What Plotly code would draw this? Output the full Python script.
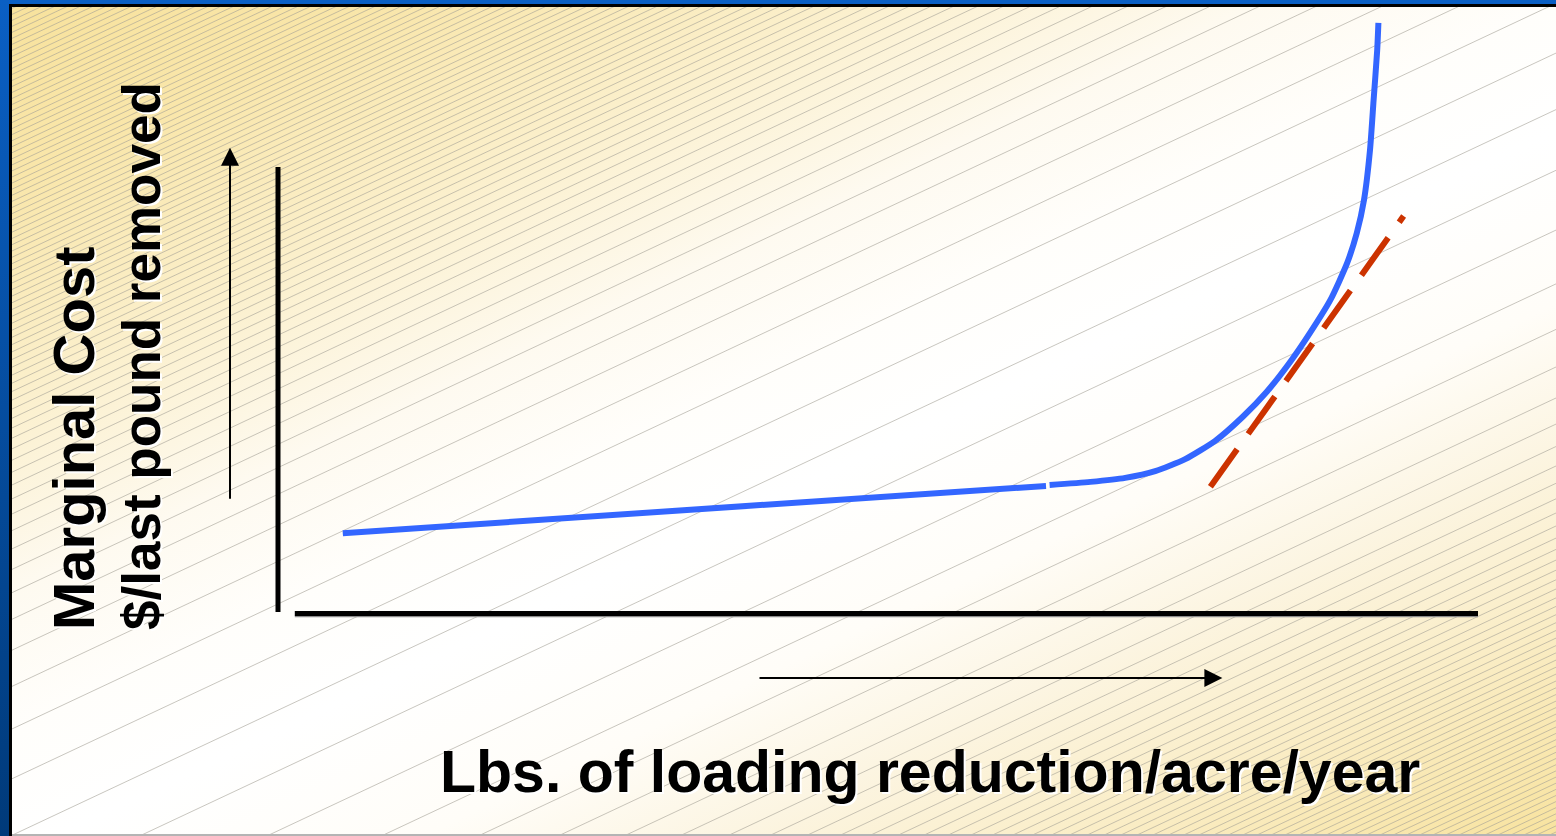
import base64
import plotly.graph_objects as go

# Marginal cost curve: flat stretch, then the steep rise
seg_x = [5.4, 64.0]
seg_y = [17.9, 28.5]

curve_x = [64.3, 67.7, 70.6, 73.1, 75.6, 78.1, 80.4, 82.4, 84.3, 86.0,
           87.7, 89.1, 89.9, 90.5, 91.0, 91.3, 91.6, 91.7]
curve_y = [28.7, 29.4, 30.3, 31.8, 34.5, 38.6, 44.0, 49.6, 56.1, 62.8,
           70.2, 78.5, 85.2, 92.6, 103.8, 115.0, 126.2, 132.3]

# tangent (dashed) line
tangent_x = [77.7, 93.8]
tangent_y = [28.3, 89.0]

W, H = 1556, 836

# pixel anchors of the axes (x=0 / y=0) and px per unit
X0_PX, X_SCALE = 278, 12.0
Y0_PX, Y_SCALE = 613, 4.46

FONT = "Liberation Sans, Arial, sans-serif"


def px_x(p):
    return p / W


def px_y(p):
    return 1 - p / H


def background_svg():
    # diagonal cream/yellow gradient, hatch, slide border
    stops = [(0.00, "#F8E29C"), (0.12, "#F9E6AA"), (0.25, "#FBEFCA"),
             (0.38, "#FEFAF0"), (0.47, "#FFFEFB"), (0.55, "#FFFFFF"),
             (0.66, "#FFFDF8"), (0.75, "#FCF5E2"), (0.86, "#FAEDC6"),
             (1.00, "#F8E39F")]
    stop_xml = "".join(f"<stop offset='{o}' stop-color='{c}'/>" for o, c in stops)

    slope = 0.47
    cmax = H + slope * W
    d = []
    c = 2.0
    while c < cmax:
        d.append(f"M0,{c:.1f}L{W},{c - slope * W:.1f}")
        f = c / cmax
        white = 2.718 ** (-((f - 0.55) / 0.17) ** 2)
        c += 6 + 55 * white
    hatch = "".join(d)

    svg = (
        f"<svg xmlns='http://www.w3.org/2000/svg' width='{W}' height='{H}' "
        f"viewBox='0 0 {W} {H}' preserveAspectRatio='none'>"
        "<defs>"
        "<linearGradient id='bg' gradientUnits='userSpaceOnUse' x1='0' y1='0' x2='603' y2='1284'>"
        f"{stop_xml}</linearGradient>"
        "<linearGradient id='bl' x1='0' y1='0' x2='0' y2='1'>"
        "<stop offset='0' stop-color='#0A5FC4'/><stop offset='1' stop-color='#003A7A'/>"
        "</linearGradient>"
        "</defs>"
        f"<rect width='{W}' height='{H}' fill='url(#bg)'/>"
        f"<path d='{hatch}' stroke='#a39f96' stroke-width='0.6' fill='none'/>"
        f"<rect x='0' y='0' width='{W}' height='4' fill='#0A5FC4'/>"
        f"<rect x='0' y='4' width='{W}' height='3' fill='#000'/>"
        f"<rect x='0' y='0' width='9' height='{H}' fill='url(#bl)'/>"
        f"<rect x='9' y='4' width='3' height='{H}' fill='#000'/>"
        f"<rect x='12' y='{H - 2}' width='{W}' height='2' fill='#b4b4b4'/>"
        "</svg>"
    )
    return "data:image/svg+xml;base64," + base64.b64encode(svg.encode()).decode()


fig = go.Figure()

fig.add_trace(go.Scatter(
    x=seg_x, y=seg_y, mode='lines',
    line=dict(color='#3366FF', width=6),
    hoverinfo='skip'
))

fig.add_trace(go.Scatter(
    x=curve_x, y=curve_y, mode='lines',
    line=dict(color='#3366FF', width=6, shape='spline', smoothing=0.6),
    hoverinfo='skip'
))

fig.add_trace(go.Scatter(
    x=tangent_x, y=tangent_y, mode='lines',
    line=dict(color='#CC3300', width=6, dash='46px,19px'),
    hoverinfo='skip'
))

# axis lines (drawn as shapes so they can stop short of each other)
shapes = [
    dict(type='line', xref='x', yref='y', x0=1.4, x1=100, y0=-0.78, y1=-0.78,
         line=dict(color='#8c8c8c', width=1.5)),
    dict(type='line', xref='x', yref='y', x0=1.4, x1=100, y0=-0.1, y1=-0.1,
         line=dict(color='black', width=5)),
    dict(type='line', xref='x', yref='y', x0=0, x1=0, y0=0.2, y1=100,
         line=dict(color='black', width=5)),
]

annotations = [
    # direction arrows
    dict(x=-4.0, y=104.3, ax=-4.0, ay=25.3, xref='x', yref='y', axref='x', ayref='y',
         text='', showarrow=True, arrowhead=2, arrowsize=1.8, arrowwidth=2,
         arrowcolor='black', standoff=0),
    dict(x=78.7, y=-14.6, ax=40.0, ay=-14.6, xref='x', yref='y', axref='x', ayref='y',
         text='', showarrow=True, arrowhead=2, arrowsize=1.8, arrowwidth=2,
         arrowcolor='black', standoff=0),
]

labels = [
    dict(text='Marginal Cost', x=73, y=632, size=58, angle=-90, xa='center', ya='bottom'),
    dict(text='$/last pound removed', x=141, y=632, size=53, angle=-90, xa='center', ya='bottom'),
    dict(text='Lbs. of loading reduction/acre/year', x=930, y=772, size=59, angle=0,
         xa='center', ya='middle'),
]
for lab in labels:
    for color, dx, dy in (('white', 2, -2), ('black', 0, 0)):
        annotations.append(dict(
            text=lab['text'], x=px_x(lab['x']), y=px_y(lab['y']),
            xref='paper', yref='paper', showarrow=False,
            xanchor=lab['xa'], yanchor=lab['ya'], textangle=lab['angle'],
            xshift=dx, yshift=dy,
            font=dict(family=FONT, size=lab['size'], color=color, weight='bold')
        ))

fig.update_layout(
    width=W, height=H,
    margin=dict(l=0, r=0, t=0, b=0),
    paper_bgcolor='white',
    plot_bgcolor='rgba(0,0,0,0)',
    showlegend=False,
    shapes=shapes,
    annotations=annotations,
    images=[dict(source=background_svg(), xref='paper', yref='paper',
                 x=0, y=1, sizex=1, sizey=1, xanchor='left', yanchor='top',
                 sizing='stretch', layer='below')],
)

fig.update_xaxes(
    visible=False, fixedrange=True,
    range=[-X0_PX / X_SCALE, (W - X0_PX) / X_SCALE]
)
fig.update_yaxes(
    visible=False, fixedrange=True,
    range=[(Y0_PX - H) / Y_SCALE, Y0_PX / Y_SCALE]
)

fig.write_html("out.html", config={'displayModeBar': False},
               post_script="document.body.style.margin='0';")
